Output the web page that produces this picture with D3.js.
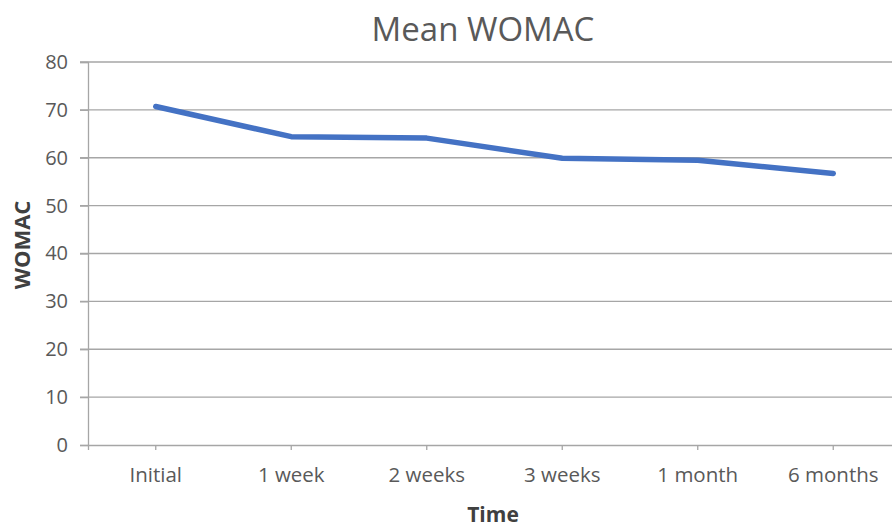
<!DOCTYPE html>
<html><head><meta charset="utf-8">
<script src="https://cdn.jsdelivr.net/npm/d3@7"></script>
<style>
body{margin:0;background:#fff;}
svg{display:block;font-family:"Open Sans",sans-serif;}
</style></head>
<body>
<svg id="chart" width="892" height="530"></svg>
<script>
const categories = ["Initial","1 week","2 weeks","3 weeks","1 month","6 months"];
const womacValues = [70.7, 64.4, 64.1, 59.9, 59.5, 56.7];
const yTicks = [0,10,20,30,40,50,60,70,80];
const chartTitle = "Mean WOMAC";
const xTitle = "Time";
const yTitle = "WOMAC";

const svg = d3.select("#chart");
const m = {left:88, right:-9, top:62, bottom:85};
const W = 892, H = 530;
const x = d3.scaleBand().domain(categories).range([m.left, W - m.right]).padding(0);
const y = d3.scaleLinear().domain([0,80]).range([H - m.bottom, m.top]);

// gridlines
svg.append("g").selectAll("line").data(yTicks.filter(d=>d>0)).join("line")
  .attr("x1", m.left - 8).attr("x2", W)
  .attr("y1", d=>y(d)).attr("y2", d=>y(d))
  .attr("stroke", "#a6a6a6").attr("stroke-width", 1.3);

// y axis
const yAxis = svg.append("g").attr("transform", `translate(${m.left},0)`)
  .call(d3.axisLeft(y).tickValues(yTicks).tickSize(8).tickPadding(12));
yAxis.select(".domain").attr("stroke","#a6a6a6").attr("stroke-width",1.3);
yAxis.selectAll(".tick line").attr("stroke","#a6a6a6").attr("stroke-width",1.3);
yAxis.selectAll("text").attr("fill","#595959").style("font-size","20px").style("font-family","'Open Sans',sans-serif");

// x axis
const xAxis = svg.append("g").attr("transform", `translate(0,${y(0)})`)
  .call(d3.axisBottom(x).tickSize(5).tickPadding(17));
xAxis.select(".domain").attr("stroke","#a6a6a6").attr("stroke-width",1.3);
xAxis.selectAll(".tick line").attr("stroke","#a6a6a6").attr("stroke-width",1.3);
xAxis.selectAll("text").attr("fill","#595959").style("font-size","20.5px").style("font-family","'Open Sans',sans-serif");

// line
const line = d3.line().x((d,i)=>x(categories[i]) + x.bandwidth()/2).y(d=>y(d));
svg.append("path").datum(womacValues).attr("d", line)
  .attr("fill","none").attr("stroke","#4472c4").attr("stroke-width",5.5)
  .attr("stroke-linejoin","round").attr("stroke-linecap","round");

// titles
svg.append("text").attr("x", 483).attr("y", 41).attr("text-anchor","middle")
  .attr("fill","#595959").style("font-size","33px").text(chartTitle);
svg.append("text").attr("x", 493).attr("y", 522).attr("text-anchor","middle")
  .attr("fill","#404040").style("font-size","21px").style("font-weight","bold").text(xTitle);
svg.append("text").attr("transform","translate(30,245) rotate(-90)").attr("text-anchor","middle")
  .attr("fill","#404040").style("font-size","22px").style("font-weight","bold").text(yTitle);
</script>
</body></html>
